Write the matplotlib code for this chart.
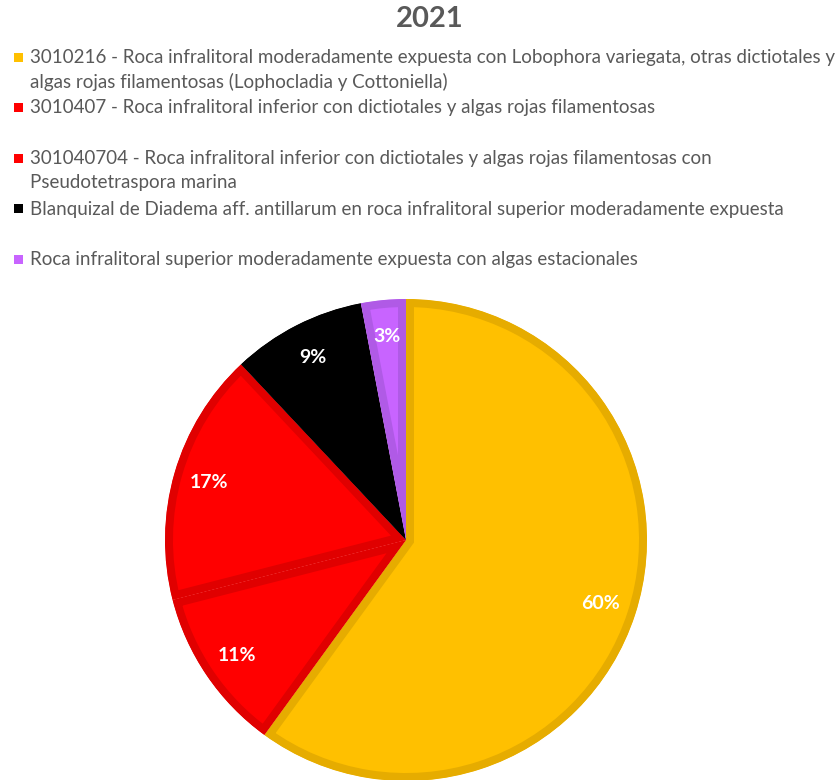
import matplotlib
matplotlib.use('Agg')
import matplotlib.pyplot as plt
from matplotlib.patches import Rectangle

title = '2021'
labels = [
    '3010216 - Roca infralitoral moderadamente expuesta con Lobophora variegata, otras dictiotales y\nalgas rojas filamentosas (Lophocladia y Cottoniella)',
    '3010407 - Roca infralitoral inferior con dictiotales y algas rojas filamentosas',
    '301040704 - Roca infralitoral inferior con dictiotales y algas rojas filamentosas con\nPseudotetraspora marina',
    'Blanquizal de Diadema aff. antillarum en roca infralitoral superior moderadamente expuesta',
    'Roca infralitoral superior moderadamente expuesta con algas estacionales',
]
values = [60, 11, 17, 9, 3]
colors = ['#FFC000', '#FF0000', '#FF0000', '#000000', '#C864FF']
edges = ['#E6AC00', '#E00000', '#E00000', '#000000', '#B05AE6']

W, H = 840, 780
fig = plt.figure(figsize=(W / 100, H / 100), dpi=100)
plt.rcParams['font.family'] = ['Lato', 'DejaVu Sans']

fig.text(430 / W, 1 - 19 / H, title, ha='center', va='center',
         fontsize=21, fontweight='bold', color='#595959')

# legend, drawn by hand to mimic the Excel layout
y0 = 57
slot = 50.5
for i, lab in enumerate(labels):
    y = y0 + i * slot
    fig.patches.append(Rectangle((14 / W, 1 - (y + 4.5) / H), 9 / W, 9 / H,
                                 transform=fig.transFigure, facecolor=colors[i],
                                 edgecolor='none'))
    fig.text(30 / W, 1 - (y - 8) / H, lab, ha='left', va='top', fontsize=13.5,
             color='#595959', linespacing=1.48)

# pie
cx, cy, r = 406, 540, 241
ax = fig.add_axes([(cx - r) / W, (H - cy - r) / H, 2 * r / W, 2 * r / H])
wedges, texts, autotexts = ax.pie(values, colors=colors, startangle=90, counterclock=False,
                                  radius=1, autopct='%d%%', pctdistance=0.85,
                                  textprops=dict(color='white', fontweight='bold', fontsize=14))
ax.set_xlim(-1, 1)
ax.set_ylim(-1, 1)
ax.axis('off')
for w, ec in zip(wedges, edges):
    w.set_edgecolor(ec)
    w.set_linewidth(11.5)
    w.set_clip_path(w)
    w.set_clip_on(True)

fig.savefig('out.png', dpi=100)
